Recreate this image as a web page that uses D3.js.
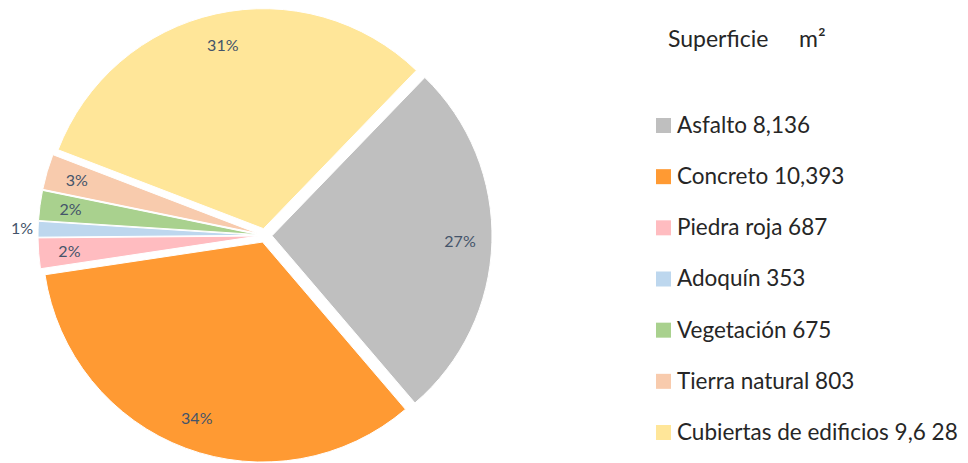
<!DOCTYPE html>
<html>
<head>
<meta charset="utf-8">
<script src="https://cdn.jsdelivr.net/npm/d3@7"></script>
<style>
  html, body { margin: 0; padding: 0; background: #ffffff; }
  svg { display: block; }
</style>
</head>
<body>
<svg id="chart" width="968" height="463"></svg>
<script>
// Superficie por tipo de cubierta (m²)
const categories = ["Asfalto", "Concreto", "Piedra roja", "Adoquín", "Vegetación", "Tierra natural", "Cubiertas de edificios"];
const values = [8136, 10393, 687, 353, 675, 803, 9628];
const valueLabels = ["8,136", "10,393", "687", "353", "675", "803", "9,6 28"];
const colors = ["#bfbfbf", "#ff9a33", "#ffbcc0", "#bdd7ee", "#a9d18e", "#f8cbad", "#ffe699"];
const legendTitle = "Superficie";
const legendUnit = "m²";

const width = 968, height = 463;
const cx = 265, cy = 235.5, radius = 220;
const explode = 7;
const startAngle = 44 * Math.PI / 180;

const svg = d3.select("#chart");
const font = "Lato, 'Open Sans', sans-serif";

const total = d3.sum(values);
const pie = d3.pie().sort(null).value(d => d)
  .startAngle(startAngle).endAngle(startAngle + 2 * Math.PI);
const arcs = pie(values);

const arc = d3.arc().innerRadius(0).outerRadius(radius);

const g = svg.append("g").attr("transform", `translate(${cx},${cy})`);

const slices = g.selectAll("g.slice").data(arcs).enter().append("g")
  .attr("class", "slice")
  .attr("transform", d => {
    const m = (d.startAngle + d.endAngle) / 2;
    return `translate(${explode * Math.sin(m)},${-explode * Math.cos(m)})`;
  });

slices.append("path")
  .attr("d", arc)
  .attr("fill", (d, i) => colors[i])
  .attr("stroke", "#ffffff")
  .attr("stroke-width", 1);

// percentage labels; the smallest slice gets its label outside the pie
const pct = d3.format(".0%");
slices.append("text")
  .attr("transform", (d, i) => {
    const share = d.value / total;
    const r = share < 0.015 ? radius + 16 : (share < 0.05 ? radius * 0.86 : radius * 0.855);
    const m = (d.startAngle + d.endAngle) / 2;
    return `translate(${r * Math.sin(m)},${-r * Math.cos(m)})`;
  })
  .attr("text-anchor", "middle")
  .attr("dy", "0.35em")
  .attr("font-family", font)
  .attr("font-size", 16)
  .attr("fill", "#44546a")
  .text(d => pct(d.value / total));

// legend
const legend = svg.append("g").attr("transform", "translate(656,0)");
legend.append("text")
  .attr("x", 12).attr("y", 47)
  .attr("font-family", font).attr("font-size", 23).attr("fill", "#262626")
  .text(legendTitle);
legend.append("text")
  .attr("x", 143).attr("y", 47)
  .attr("font-family", font).attr("font-size", 23).attr("fill", "#262626")
  .text(legendUnit);

const rowY = d3.scalePoint().domain(categories).range([125, 432]);
const rows = legend.selectAll("g.row").data(categories).enter().append("g")
  .attr("class", "row")
  .attr("transform", d => `translate(0,${rowY(d)})`);
rows.append("rect")
  .attr("x", 0).attr("y", -7).attr("width", 15).attr("height", 15)
  .attr("fill", (d, i) => colors[i]);
rows.append("text")
  .attr("x", 21).attr("y", 0).attr("dy", "0.35em")
  .attr("font-family", font).attr("font-size", 22.5).attr("fill", "#262626")
  .text((d, i) => `${d} ${valueLabels[i]}`);
</script>
</body>
</html>
